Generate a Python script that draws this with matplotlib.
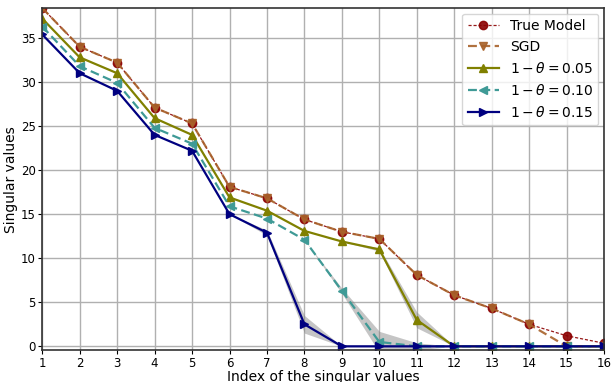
import numpy as np
import matplotlib
matplotlib.use('Agg')
import matplotlib.pyplot as plt

# %%
idx = np.arange(1, 17)

true_model = [38.4, 34.0, 32.2, 27.1, 25.3, 18.1, 16.8, 14.4, 13.0, 12.2, 8.1, 5.8, 4.3, 2.5, 1.2, 0.35]
sgd = [38.4, 34.0, 32.2, 27.1, 25.3, 18.1, 16.8, 14.4, 13.0, 12.2, 8.1, 5.8, 4.3, 2.5, 0.0, 0.0]
th05 = [37.2, 32.8, 31.0, 25.9, 24.0, 16.9, 15.4, 13.1, 11.9, 11.0, 3.0, 0, 0, 0, 0, 0]
th10 = [36.3, 31.8, 29.9, 24.8, 23.0, 15.9, 14.5, 12.1, 6.3, 0.5, 0, 0, 0, 0, 0, 0]
th15 = [35.4, 31.0, 29.0, 24.0, 22.2, 15.0, 12.9, 2.5, 0, 0, 0, 0, 0, 0, 0, 0]

# spread over the runs
std05 = [0, 0, 0, 0, 0, 0, 0, 0, 0, 0.2, 0.9, 0, 0, 0, 0, 0]
std10 = [0, 0, 0, 0, 0, 0, 0, 0, 0.3, 1.2, 0.4, 0, 0, 0, 0, 0]
std15 = [0, 0, 0, 0, 0, 0, 0.3, 1.0, 0, 0, 0, 0, 0, 0, 0, 0]

plt.rcParams['font.size'] = 9

fig = plt.figure(figsize=(6.12, 3.82), dpi=100)
ax = fig.add_axes([0.069, 0.083, 0.918, 0.896])

for y, s in [(th05, std05), (th10, std10), (th15, std15)]:
    y, s = np.array(y), np.array(s)
    ax.fill_between(idx, y - s, y + s, color='grey', alpha=0.45, lw=0)

ax.plot(idx, true_model, '--', color='#8b0000', lw=0.9, marker='o', ms=6,
        label='True Model', alpha=0.9, dashes=(2.5, 1.5))
ax.plot(idx, sgd, '--', color='#a8622a', lw=1.6, marker='v', ms=6,
        label='SGD', alpha=0.9, dashes=(4, 2))
ax.plot(idx, th05, '-', color='#808000', lw=1.6, marker='^', ms=6,
        label=r'$1-\theta=0.05$')
ax.plot(idx, th10, '--', color='#3f9a96', lw=1.6, marker='<', ms=6,
        label=r'$1-\theta=0.10$', dashes=(4, 2))
ax.plot(idx, th15, '-', color='#000080', lw=1.6, marker='>', ms=6,
        label=r'$1-\theta=0.15$')

ax.set_xlim(1, 16)
ax.set_ylim(-0.45, 38.4)
ax.set_xticks(idx)
ax.set_yticks(np.arange(0, 36, 5))
ax.grid(True, color='#b0b0b0', lw=1)
ax.set_axisbelow(True)
ax.tick_params(length=3, pad=1.5, labelsize=8.5)
for sp in ax.spines.values():
    sp.set_color('#333333')
    sp.set_linewidth(1.2)

ax.set_xlabel('Index of the singular values', fontsize=10, labelpad=0)
ax.set_ylabel('Singular values', fontsize=10, labelpad=2)
ax.legend(loc='upper right', fontsize=10, handlelength=2.2, borderaxespad=0.4)

plt.savefig('out.png', dpi=100)
